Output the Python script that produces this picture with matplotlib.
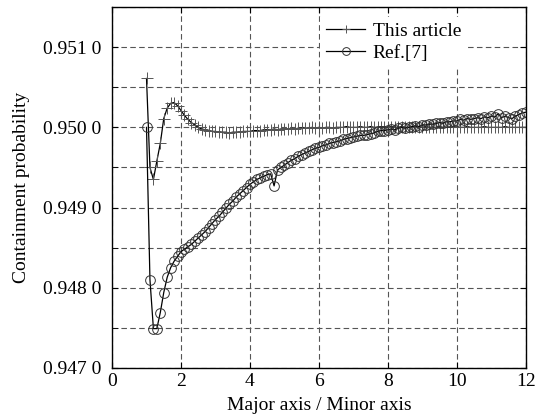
import matplotlib
matplotlib.use("Agg")
import matplotlib.pyplot as plt
import numpy as np
from matplotlib.ticker import MultipleLocator, FuncFormatter

plt.rcParams['font.family'] = ['Liberation Serif', 'DejaVu Serif']
fontsize = 14

# ratio major/minor axis, sampled every 0.1
ratio = np.round(np.arange(1.0, 12.01, 0.1), 1)

# This article
p_this = [
    0.95061, 0.94950, 0.94935, 0.94958, 0.94980, 0.95011, 0.95024, 0.95030, 0.95031, 0.95027,
    0.95021, 0.95015, 0.95010, 0.95006, 0.95003, 0.95000, 0.94998, 0.94997, 0.94996, 0.94995,
    0.94995, 0.94994, 0.94994, 0.94994, 0.94993, 0.94994, 0.94994, 0.94994, 0.94995, 0.94995,
    0.94995, 0.94996, 0.94996, 0.94996, 0.94997, 0.94997, 0.94997, 0.94998, 0.94997, 0.94998,
    0.94998, 0.94998, 0.94999, 0.94998, 0.94999, 0.94999, 0.94999, 0.94999, 0.95000, 0.94999,
    0.95000, 0.94999, 0.95000, 0.95000, 0.94999, 0.95000, 0.95000, 0.95000, 0.95001, 0.95000,
    0.95000, 0.95000, 0.95001, 0.95000, 0.95000, 0.95001, 0.95000, 0.95000, 0.95001, 0.95000,
    0.95000, 0.95001, 0.95000, 0.95000, 0.95001, 0.95000, 0.95000, 0.95000, 0.95001, 0.95000,
    0.95000, 0.95001, 0.95000, 0.95000, 0.95000, 0.95001, 0.95000, 0.95000, 0.95000, 0.95001,
    0.95000, 0.95000, 0.95000, 0.95001, 0.95000, 0.95000, 0.95000, 0.95000, 0.95001, 0.95000,
    0.95000, 0.95000, 0.95000, 0.95000, 0.95001, 0.95000, 0.95000, 0.95000, 0.95000, 0.95000,
    0.95000,
]

# Ref.[7]
p_ref = [
    0.95000, 0.94810, 0.94749, 0.94749, 0.94769, 0.94794, 0.94813, 0.94825, 0.94833, 0.94839,
    0.94845, 0.94848, 0.94851, 0.94854, 0.94858, 0.94862, 0.94866, 0.94870, 0.94875, 0.94880,
    0.94885, 0.94889, 0.94894, 0.94899, 0.94904, 0.94908, 0.94913, 0.94917, 0.94921, 0.94925,
    0.94929, 0.94932, 0.94935, 0.94937, 0.94939, 0.94941, 0.94942, 0.94927, 0.94947, 0.94950,
    0.94953, 0.94956, 0.94959, 0.94961, 0.94964, 0.94966, 0.94968, 0.94970, 0.94972, 0.94974,
    0.94975, 0.94977, 0.94978, 0.94980, 0.94981, 0.94982, 0.94983, 0.94985, 0.94986, 0.94987,
    0.94988, 0.94989, 0.94990, 0.94990, 0.94991, 0.94992, 0.94993, 0.94995, 0.94996, 0.94996,
    0.94997, 0.94998, 0.94997, 0.94999, 0.95000, 0.94999, 0.95000, 0.95001, 0.95002, 0.95001,
    0.95003, 0.95003, 0.95004, 0.95004, 0.95005, 0.95006, 0.95005, 0.95007, 0.95007, 0.95008,
    0.95008, 0.95010, 0.95009, 0.95011, 0.95010, 0.95011, 0.95012, 0.95011, 0.95013, 0.95012,
    0.95014, 0.95013, 0.95017, 0.95012, 0.95014, 0.95012, 0.95011, 0.95014, 0.95016, 0.95018,
    0.95019,
]

fig = plt.figure(figsize=(5.36, 4.19), dpi=100)
ax = fig.add_axes([0.209, 0.122, 0.772, 0.861])

ax.plot(ratio, p_this, color='black', lw=0.9, marker='+', markersize=8,
        markeredgewidth=0.7, markeredgecolor='#555555', label='This article')
ax.plot(ratio, p_ref, color='black', lw=0.9, marker='o', markersize=7,
        markerfacecolor='none', markeredgewidth=0.7, markeredgecolor='#333333',
        label='Ref.[7]')

ax.set_xlim(0, 12)
ax.set_ylim(0.947, 0.9515)
ax.xaxis.set_major_locator(MultipleLocator(2))
ax.yaxis.set_major_locator(MultipleLocator(0.001))
ax.yaxis.set_minor_locator(MultipleLocator(0.0005))
# labels like "0.951 0"
ax.yaxis.set_major_formatter(FuncFormatter(lambda v, pos: ('%.4f' % v)[:-1] + ' ' + ('%.4f' % v)[-1]))

ax.grid(True, which='both', axis='y', linestyle=(0, (5, 3)), color='#555555', lw=0.8)
ax.grid(True, which='major', axis='x', linestyle=(0, (5, 3)), color='#555555', lw=0.8)
ax.tick_params(which='both', direction='in', top=True, right=True, labelsize=fontsize)
ax.tick_params(which='major', length=4)
ax.tick_params(which='minor', length=4)
ax.tick_params(axis='y', pad=8)
for s in ax.spines.values():
    s.set_linewidth(1.0)

ax.set_xlabel('Major axis / Minor axis', fontsize=fontsize, labelpad=5)
ax.set_ylabel('Containment probability', fontsize=fontsize, labelpad=9)

leg = ax.legend(loc='upper left', bbox_to_anchor=(0.48, 1.0), fontsize=fontsize,
                frameon=True, fancybox=False, edgecolor='none', framealpha=1,
                handlelength=2.0, handletextpad=0.4, labelspacing=0.2, borderpad=0.3,
                markerscale=0.8)

plt.savefig("out.png", dpi=100)
